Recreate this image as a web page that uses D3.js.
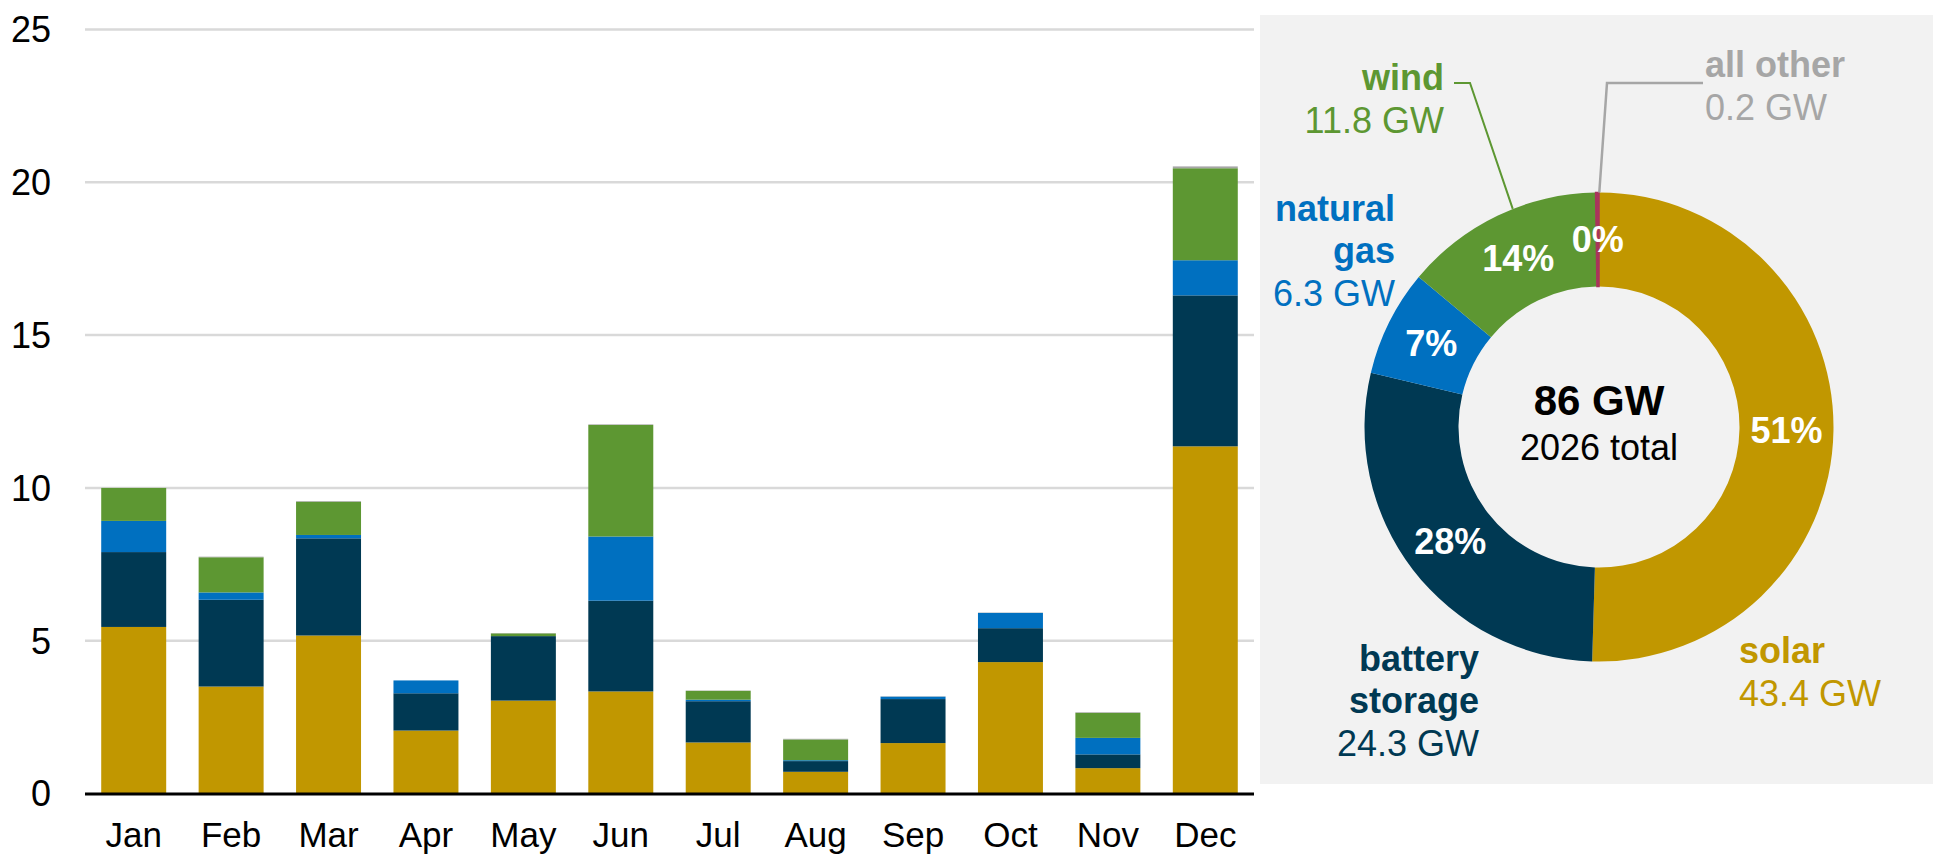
<!DOCTYPE html>
<html>
<head>
<meta charset="utf-8">
<script src="https://cdn.jsdelivr.net/npm/d3@7"></script>
<style>
  body { margin: 0; background: #fff; }
  text { font-family: "Liberation Sans", Arial, sans-serif; }
</style>
</head>
<body>
<div id="chart"></div>
<script>
// Monthly additions (GW)
const months = ["Jan", "Feb", "Mar", "Apr", "May", "Jun", "Jul", "Aug", "Sep", "Oct", "Nov", "Dec"];
const solar   = [5.45, 3.50, 5.17, 2.06, 3.04, 3.34, 1.67, 0.71, 1.65, 4.30, 0.83, 11.36];
const battery = [2.45, 2.84, 3.18, 1.22, 2.11, 2.97, 1.35, 0.35, 1.44, 1.11, 0.45, 4.94];
const gas     = [1.02, 0.24, 0.11, 0.42, 0.00, 2.10, 0.05, 0.03, 0.08, 0.50, 0.54, 1.15];
const wind    = [1.08, 1.15, 1.09, 0.00, 0.09, 3.65, 0.29, 0.68, 0.00, 0.00, 0.82, 3.01];
const other   = [0.00, 0.02, 0.02, 0.00, 0.01, 0.02, 0.01, 0.02, 0.01, 0.01, 0.02, 0.06];
const yTicks = [0, 5, 10, 15, 20, 25];

// 2026 totals for the donut
const techNames = ["solar", "battery storage", "natural gas", "wind", "all other"];
const techTotals = [43.4, 24.3, 6.3, 11.8, 0.2];
const techPct = [51, 28, 7, 14, 0];
const totalLabel = "86 GW";
const totalSub = "2026 total";

const keys = ["solar", "battery", "gas", "wind", "other"];
const barColors = { solar: "#c19700", battery: "#003953", gas: "#0070c0", wind: "#5d9732", other: "#a6a6a6" };
const sliceColors = ["#c19700", "#003953", "#0070c0", "#5d9732", "#a8355c"];
const textColors = ["#c19700", "#003953", "#0070c0", "#5d9732", "#a6a6a6"];

const W = 1933, H = 856;
const svg = d3.select("#chart").append("svg")
    .attr("width", W)
    .attr("height", H);

// ---- bar chart ----
const rows = months.map((m, i) => ({
    month: m, solar: solar[i], battery: battery[i], gas: gas[i], wind: wind[i], other: other[i]
}));

const x = d3.scaleBand()
    .domain(months)
    .range([85, 1254])
    .paddingInner(0.333)
    .paddingOuter(0.1665);

const y = d3.scaleLinear()
    .domain([0, 25])
    .range([793.5, 29.5]);

// gridlines
svg.append("g")
    .selectAll("line")
    .data(yTicks.filter(t => t > 0))
    .enter().append("line")
    .attr("x1", 85)
    .attr("x2", 1254)
    .attr("y1", d => y(d))
    .attr("y2", d => y(d))
    .attr("stroke", "#d9d9d9")
    .attr("stroke-width", 2.5);

// y labels
svg.append("g")
    .selectAll("text")
    .data(yTicks)
    .enter().append("text")
    .attr("x", 51)
    .attr("y", d => y(d))
    .attr("dy", "0.36em")
    .attr("text-anchor", "end")
    .attr("font-size", 36)
    .attr("fill", "#000")
    .text(d => d);

const stacked = d3.stack().keys(keys)(rows);

svg.append("g")
    .selectAll("g")
    .data(stacked)
    .enter().append("g")
    .attr("fill", d => barColors[d.key])
    .selectAll("rect")
    .data(d => d)
    .enter().append("rect")
    .attr("x", d => x(d.data.month))
    .attr("y", d => y(d[1]))
    .attr("height", d => y(d[0]) - y(d[1]))
    .attr("width", x.bandwidth());

// baseline
svg.append("line")
    .attr("x1", 85)
    .attr("x2", 1254)
    .attr("y1", y(0) + 0.5)
    .attr("y2", y(0) + 0.5)
    .attr("stroke", "#000")
    .attr("stroke-width", 3);

// month labels
svg.append("g")
    .selectAll("text")
    .data(months)
    .enter().append("text")
    .attr("x", d => x(d) + x.bandwidth() / 2)
    .attr("y", 847)
    .attr("text-anchor", "middle")
    .attr("font-size", 35)
    .attr("fill", "#000")
    .text(d => d);

// ---- donut panel ----
svg.append("rect")
    .attr("x", 1260)
    .attr("y", 15)
    .attr("width", W - 1260)
    .attr("height", 769)
    .attr("fill", "#f2f2f2");

const cx = 1599, cy = 427, R = 234.5, r0 = 140.5;
const pie = d3.pie().sort(null).value(d => d);
const arcs = pie(techTotals);
const arc = d3.arc().innerRadius(r0).outerRadius(R);

const donut = svg.append("g").attr("transform", `translate(${cx},${cy})`);
donut.selectAll("path")
    .data(arcs)
    .enter().append("path")
    .attr("d", arc)
    .attr("fill", (d, i) => sliceColors[i])
    .attr("stroke", (d, i) => i === 4 ? sliceColors[i] : "none")
    .attr("stroke-width", 1.5);

donut.selectAll("text.pct")
    .data(arcs)
    .enter().append("text")
    .attr("class", "pct")
    .attr("x", d => arc.centroid(d)[0])
    .attr("y", d => arc.centroid(d)[1])
    .attr("dy", "0.36em")
    .attr("text-anchor", "middle")
    .attr("font-size", 36)
    .attr("font-weight", "bold")
    .attr("fill", "#fff")
    .text((d, i) => techPct[i] + "%");

donut.append("text")
    .attr("y", -12)
    .attr("text-anchor", "middle")
    .attr("font-size", 42)
    .attr("font-weight", "bold")
    .attr("fill", "#000")
    .text(totalLabel);

donut.append("text")
    .attr("y", 33)
    .attr("text-anchor", "middle")
    .attr("font-size", 36)
    .attr("fill", "#000")
    .text(totalSub);

// point on the outer edge of a slice
function edgePoint(angle) {
    return [cx + R * Math.sin(angle), cy - R * Math.cos(angle)];
}

// leader lines
const windEdge = edgePoint(arcs[3].startAngle + (arcs[3].endAngle - arcs[3].startAngle) * 0.58);
svg.append("polyline")
    .attr("points", [[1454, 83], [1470, 83], windEdge].map(p => p.join(",")).join(" "))
    .attr("fill", "none")
    .attr("stroke", textColors[3])
    .attr("stroke-width", 2);

const otherEdge = edgePoint((arcs[4].startAngle + arcs[4].endAngle) / 2);
svg.append("polyline")
    .attr("points", [[1703, 83], [1607, 83], [otherEdge[0] + 2, otherEdge[1]]].map(p => p.join(",")).join(" "))
    .attr("fill", "none")
    .attr("stroke", textColors[4])
    .attr("stroke-width", 2.5);

// category labels: lines of bold name then value
const labelSpots = [
    { i: 0, x: 1739, y: 663, anchor: "start", name: ["solar"] },
    { i: 1, x: 1479, y: 671, anchor: "end", name: ["battery", "storage"] },
    { i: 2, x: 1395, y: 221, anchor: "end", name: ["natural", "gas"] },
    { i: 3, x: 1444, y: 90, anchor: "end", name: ["wind"] },
    { i: 4, x: 1705, y: 77, anchor: "start", name: ["all other"] }
];

labelSpots.forEach(s => {
    const t = svg.append("text")
        .attr("x", s.x)
        .attr("y", s.y)
        .attr("text-anchor", s.anchor)
        .attr("font-size", 36)
        .attr("fill", textColors[s.i]);
    s.name.forEach((n, k) => {
        t.append("tspan")
            .attr("x", s.x)
            .attr("dy", k === 0 ? 0 : 42)
            .attr("font-weight", "bold")
            .text(n);
    });
    t.append("tspan")
        .attr("x", s.x)
        .attr("dy", 43)
        .text(techTotals[s.i].toFixed(1) + " GW");
});
</script>
</body>
</html>
